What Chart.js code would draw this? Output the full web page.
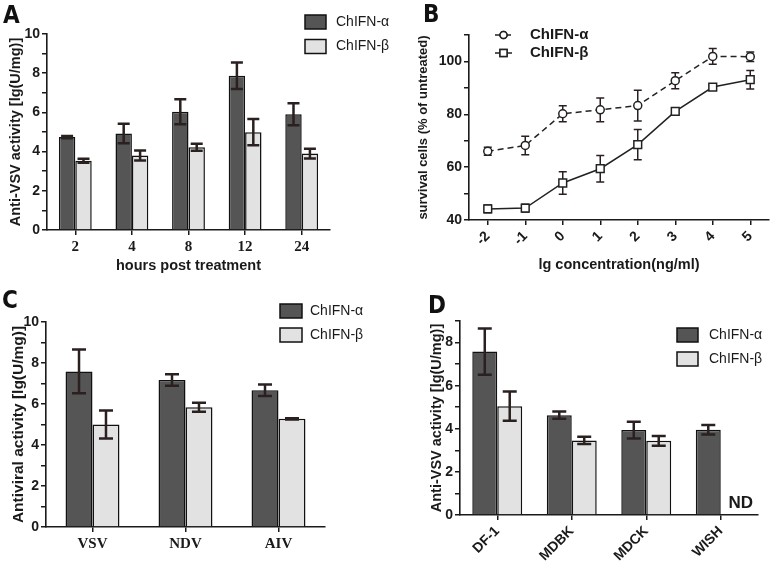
<!DOCTYPE html>
<html>
<head>
<meta charset="utf-8">
<script src="https://cdn.jsdelivr.net/npm/chart.js@4.4.1/dist/chart.umd.min.js"></script>
<style>
  body { margin: 0; background: #fff; }
  #wrap { position: relative; width: 776px; height: 564px; overflow: hidden; }
  .panel { position: absolute; }
  .letter { position: absolute; font: bold 24px "DejaVu Sans Condensed", "DejaVu Sans", sans-serif; line-height: 1; color: #111; }
</style>
</head>
<body>
<div id="wrap">
  <canvas id="chartA" class="panel" width="390" height="280" style="left:0;top:0"></canvas>
  <canvas id="chartB" class="panel" width="386" height="280" style="left:390px;top:0"></canvas>
  <canvas id="chartC" class="panel" width="390" height="284" style="left:0;top:280px"></canvas>
  <canvas id="chartD" class="panel" width="386" height="284" style="left:390px;top:280px"></canvas>
  <div class="letter" style="left:3px;top:3px">A</div>
  <div class="letter" style="left:423px;top:2px">B</div>
  <div class="letter" style="left:2px;top:288px">C</div>
  <div class="letter" style="left:428px;top:293px">D</div>
</div>
<script>
// ---- data ----
const seriesNames = ['ChIFN-α', 'ChIFN-β'];

// A: time course
const hours = ['2', '4', '8', '12', '24'];
const hoursAlpha = [4.74, 4.92, 6.03, 7.87, 5.91];
const hoursAlphaErr = [0.06, 0.5, 0.64, 0.68, 0.56];
const hoursBeta = [3.53, 3.8, 4.22, 4.99, 3.9];
const hoursBetaErr = [0.1, 0.25, 0.18, 0.67, 0.25];

// B: dose response
const concentration = ['-2', '-1', '0', '1', '2', '3', '4', '5'];
const survivalAlpha = [66.0, 68.2, 80.2, 81.7, 83.3, 92.7, 101.9, 101.8];
const survivalAlphaErr = [1.5, 3.5, 3.0, 4.5, 5.8, 3.0, 3.0, 1.8];
const survivalBeta = [44.2, 44.5, 54.0, 59.4, 68.5, 81.1, 90.3, 93.1];
const survivalBetaErr = [1.5, 1.5, 4.3, 5.0, 5.7, 1.0, 0.7, 3.5];

// C: viruses
const viruses = ['VSV', 'NDV', 'AIV'];
const virusAlpha = [7.59, 7.17, 6.67];
const virusAlphaErr = [1.07, 0.28, 0.28];
const virusBeta = [5.0, 5.84, 5.28];
const virusBetaErr = [0.68, 0.22, 0.03];

// D: cell lines (WISH beta not determined)
const cells = ['DF-1', 'MDBK', 'MDCK', 'WISH'];
const cellAlpha = [7.58, 4.63, 3.94, 3.95];
const cellAlphaErr = [1.07, 0.17, 0.39, 0.22];
const cellBeta = [5.05, 3.46, 3.44, null];
const cellBetaErr = [0.68, 0.17, 0.23, null];
const ndLabel = 'ND';

// ---- styles ----
const SANS = '"Liberation Sans", Arial, sans-serif';
const SERIF = '"Liberation Serif", "Times New Roman", serif';
const INK = '#1a1a1a';
const DARK = '#555555';
const LIGHT = '#e2e2e2';
const ERR = '#2a2020';

Chart.defaults.font.family = SANS;
Chart.defaults.color = INK;
Chart.defaults.animation = false;

// error bars drawn from each dataset's errors array
const errorBars = {
    id: 'errorBars',
    draw(chart, opts) {
        const ctx = chart.ctx
        const y = chart.scales.y
        chart.data.datasets.forEach((ds, i) => {
            if (!ds.errors) return
            const meta = chart.getDatasetMeta(i)
            ctx.save()
            ctx.strokeStyle = opts.color || ERR
            ctx.lineWidth = opts.width || 2
            meta.data.forEach((el, j) => {
                const v = ds.data[j], e = ds.errors[j]
                if (v == null || e == null) return
                const x = el.x
                const top = y.getPixelForValue(v + e)
                const bot = y.getPixelForValue(v - e)
                const c = opts.cap || 6
                ctx.beginPath()
                ctx.moveTo(x, top); ctx.lineTo(x, bot)
                ctx.moveTo(x - c, top); ctx.lineTo(x + c, top)
                ctx.moveTo(x - c, bot); ctx.lineTo(x + c, bot)
                ctx.stroke()
            })
            ctx.restore()
        })
    },
    beforeDatasetsDraw(chart, args, opts) { if (opts.behind) this.draw(chart, opts) },
    afterDatasetsDraw(chart, args, opts) { if (!opts.behind) this.draw(chart, opts) }
};

// legend placed at fixed spot like the original figure
const boxLegend = {
    id: 'boxLegend',
    afterDraw(chart, args, o) {
        if (!o || o.x == null) return
        const ctx = chart.ctx
        ctx.save()
        chart.data.datasets.forEach((ds, i) => {
            const cy = o.y + i * o.dy
            if (o.kind === 'line') {
                ctx.strokeStyle = ds.borderColor
                ctx.lineWidth = 1.5
                ctx.setLineDash(ds.borderDash || [])
                ctx.beginPath()
                ctx.moveTo(o.x, cy); ctx.lineTo(o.x + o.w, cy)
                ctx.stroke()
                ctx.setLineDash([])
                Chart.helpers.drawPoint(ctx, {
                    pointStyle: ds.pointStyle, radius: ds.pointRadius - 0.5, borderWidth: 1.5
                }, o.x + o.w / 2, cy)
                ctx.fillStyle = '#fff'
                ctx.fill()
                ctx.stroke()
            } else {
                ctx.fillStyle = ds.backgroundColor
                ctx.strokeStyle = '#111'
                ctx.lineWidth = 1.5
                ctx.fillRect(o.x, cy - o.h / 2, o.w, o.h)
                ctx.strokeRect(o.x, cy - o.h / 2, o.w, o.h)
            }
            ctx.fillStyle = INK
            ctx.font = o.font
            ctx.textBaseline = 'middle'
            ctx.fillText(ds.label, o.textX, cy)
        })
        ctx.restore()
    }
};

// "ND" note where the missing bar would be
const ndNote = {
    id: 'ndNote',
    afterDraw(chart, args, o) {
        if (!o || !o.text) return
        const meta = chart.getDatasetMeta(0)
        const el = meta.data[o.index]
        const ctx = chart.ctx
        ctx.save()
        ctx.font = o.font
        ctx.fillStyle = INK
        ctx.textAlign = 'center'
        ctx.textBaseline = 'bottom'
        ctx.fillText(o.text, el.x + el.width * 1.3, chart.scales.y.getPixelForValue(0) - 3)
        ctx.restore()
    }
};

Chart.register(errorBars, boxLegend, ndNote);

function yAxis(min, max, step, every, title, titleSize, width) {
    return {
        min: min, max: max,
        border: { color: INK, width: 1.6 },
        grid: { drawOnChartArea: false, color: INK, lineWidth: 1.5, tickLength: 5 },
        ticks: {
            stepSize: step, autoSkip: false, padding: 2,
            font: { size: 14, weight: 'bold' }, color: INK,
            callback: v => (Math.round(v - min) % every === 0 ? v : '')
        },
        title: { display: true, text: title, font: { size: titleSize, weight: 'bold' }, color: INK },
        afterFit: s => { s.width = width }
    };
}

function xAxis(height, tickFont, title, rotate, offset) {
    const ax = {
        offset: offset,
        border: { color: INK, width: 1.6 },
        grid: { drawOnChartArea: false, color: INK, lineWidth: 1.5, tickLength: 5, offset: false },
        ticks: {
            font: tickFont, color: INK, padding: 3, autoSkip: false,
            maxRotation: rotate, minRotation: rotate
        },
        afterFit: s => { s.height = height }
    };
    if (title) ax.title = { display: true, text: title, font: { size: 14.5, weight: 'bold' }, color: INK };
    return ax;
}

function barSet(label, data, errors, color) {
    return {
        label: label, data: data, errors: errors,
        backgroundColor: color, borderColor: '#111', borderWidth: 1.5,
        barPercentage: 1.0
    };
}

// ---- A ----
new Chart(document.getElementById('chartA'), {
    type: 'bar',
    data: {
        labels: hours,
        datasets: [
            barSet(seriesNames[0], hoursAlpha, hoursAlphaErr, DARK),
            barSet(seriesNames[1], hoursBeta, hoursBetaErr, LIGHT)
        ]
    },
    options: {
        responsive: false,
        datasets: { bar: { categoryPercentage: 0.58 } },
        layout: { padding: { left: 3, top: 34, right: 60, bottom: 1 } },
        scales: {
            x: xAxis(49, { size: 15, weight: 'bold', family: SERIF }, 'hours post treatment', 0, true),
            y: yAxis(0, 10, 1, 2, 'Anti-VSV activity [lg(U/mg)]', 14.5, 44)
        },
        plugins: {
            legend: { display: false }, tooltip: { enabled: false },
            errorBars: { cap: 6, width: 2.5 },
            boxLegend: { x: 305, y: 22, dy: 24.5, w: 21, h: 14, textX: 336, font: '14px ' + SANS }
        }
    }
});

// ---- B ----
new Chart(document.getElementById('chartB'), {
    type: 'line',
    data: {
        labels: concentration,
        datasets: [{
            label: seriesNames[0], data: survivalAlpha, errors: survivalAlphaErr,
            borderColor: '#222', borderWidth: 1.5, borderDash: [6, 4],
            pointStyle: 'circle', pointRadius: 4, pointBorderWidth: 1.5,
            pointBackgroundColor: '#fff', pointBorderColor: '#222'
        }, {
            label: seriesNames[1], data: survivalBeta, errors: survivalBetaErr,
            borderColor: '#222', borderWidth: 1.5,
            pointStyle: 'rect', pointRadius: 5.5, pointBorderWidth: 1.5,
            pointBackgroundColor: '#fff', pointBorderColor: '#222'
        }]
    },
    options: {
        responsive: false,
        layout: { padding: { left: 22, top: 35, right: 6, bottom: 2 } },
        scales: {
            x: xAxis(58, { size: 14, weight: 'bold' }, 'lg concentration(ng/ml)', 45, true),
            y: yAxis(40, 110, 10, 20, 'survival cells (% of untreated)', 13, 57)
        },
        plugins: {
            legend: { display: false }, tooltip: { enabled: false },
            errorBars: { cap: 4, width: 1.5, behind: true },
            boxLegend: { kind: 'line', x: 105, y: 35, dy: 18, w: 17, textX: 140, font: 'bold 15px ' + SANS }
        }
    }
});

// ---- C ----
new Chart(document.getElementById('chartC'), {
    type: 'bar',
    data: {
        labels: viruses,
        datasets: [
            barSet(seriesNames[0], virusAlpha, virusAlphaErr, DARK),
            barSet(seriesNames[1], virusBeta, virusBetaErr, LIGHT)
        ]
    },
    options: {
        responsive: false,
        datasets: { bar: { categoryPercentage: 0.58 } },
        layout: { padding: { left: 5, top: 42, right: 65, bottom: 0 } },
        scales: {
            x: xAxis(37, { size: 15, weight: 'bold', family: SERIF }, null, 0, true),
            y: yAxis(0, 10, 1, 2, 'Antiviral activity [lg(U/mg)]', 15.5, 41)
        },
        plugins: {
            legend: { display: false }, tooltip: { enabled: false },
            errorBars: { cap: 7, width: 2.5 },
            boxLegend: { x: 280, y: 31, dy: 24, w: 22, h: 14, textX: 310, font: '14px ' + SANS }
        }
    }
});

// ---- D ----
new Chart(document.getElementById('chartD'), {
    type: 'bar',
    data: {
        labels: cells,
        datasets: [
            barSet(seriesNames[0], cellAlpha, cellAlphaErr, DARK),
            barSet(seriesNames[1], cellBeta, cellBetaErr, LIGHT)
        ]
    },
    options: {
        responsive: false,
        datasets: { bar: { categoryPercentage: 0.67 } },
        layout: { padding: { left: 34, top: 41, right: 18, bottom: 0 } },
        scales: {
            x: xAxis(49, { size: 14, weight: 'bold' }, null, 45, true),
            y: yAxis(0, 9, 1, 2, 'Anti-VSV activity [lg(U/mg)]', 14.5, 36)
        },
        plugins: {
            legend: { display: false }, tooltip: { enabled: false },
            errorBars: { cap: 7, width: 2.5 },
            boxLegend: { x: 287, y: 55, dy: 24, w: 21, h: 14, textX: 319, font: '14px ' + SANS },
            ndNote: { text: ndLabel, index: 3, font: 'bold 17px ' + SANS }
        }
    }
});
</script>
</body>
</html>
